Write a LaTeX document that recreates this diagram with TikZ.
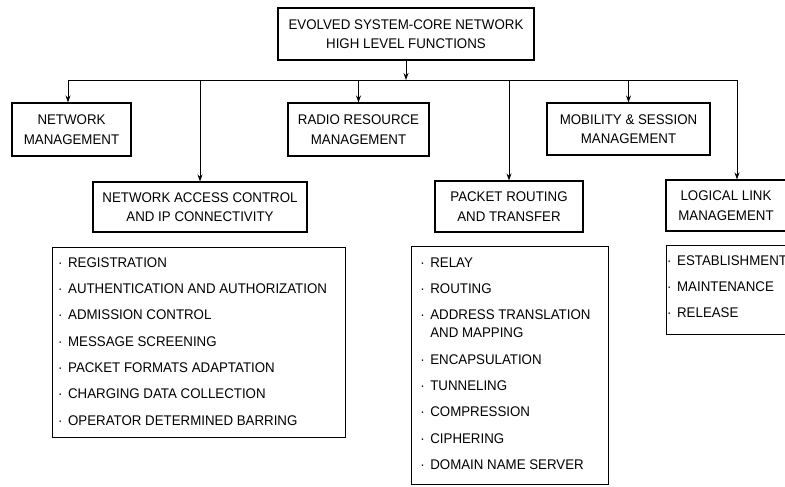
\documentclass[tikz,border=0pt]{standalone}
\usepackage{fontspec}
\setmainfont{Liberation Sans}[FakeStretch=0.95]
\usetikzlibrary{matrix,positioning,arrows.meta}

\begin{document}
\begin{tikzpicture}[x=1pt, y=-1pt, font=\fontsize{14}{19.5}\selectfont]
    \tikzstyle{block} = [rectangle, draw, line width=1.1pt, align=center,
               inner sep=0pt]
    \tikzstyle{listbox} = [rectangle, draw, line width=1.1pt, inner sep=0pt]
    \tikzstyle{line} = [draw, line width=0.9pt, -{Stealth[length=7pt,width=5pt]}]
    \tikzstyle{items} = [matrix of nodes, inner sep=0pt,
      column sep=5.5pt, row sep=13.3pt,
      nodes={anchor=west, inner sep=0pt, text height=10pt, text depth=3pt}]

    \useasboundingbox (0,0) rectangle (785,487);

    % Top level
    \node[block, minimum width=256pt, minimum height=52pt] (hlf) at (406,34)
      {EVOLVED SYSTEM-CORE NETWORK\\HIGH LEVEL FUNCTIONS};

    % First row of functions
    \node[block, minimum width=119pt, minimum height=53pt] (netmgmt) at (71.5,129.5)
      {NETWORK\\MANAGEMENT};
    \node[block, minimum width=141pt, minimum height=53pt] (radiomgmt) at (358.5,129.5)
      {RADIO RESOURCE\\MANAGEMENT};
    \node[block, minimum width=163pt, minimum height=52pt] (mobmgmt) at (628.5,129)
      {MOBILITY \& SESSION\\MANAGEMENT};

    % Second row of functions
    \node[block, minimum width=214pt, minimum height=50pt] (netaccess) at (200,207)
      {NETWORK ACCESS CONTROL\\AND IP CONNECTIVITY};
    \node[block, minimum width=148pt, minimum height=51pt] (pktroute) at (509,206.5)
      {PACKET ROUTING\\AND TRANSFER};
    \node[block, minimum width=120pt, minimum height=51pt] (linkmgmt) at (726,205.5)
      {LOGICAL LINK\\MANAGEMENT};

    % Sub-function boxes
    \node[listbox, minimum width=293pt, minimum height=190pt, anchor=north west]
      (naclist) at (52,247) {};
    \node[listbox, minimum width=197pt, minimum height=238pt, anchor=north west]
      (prtlist) at (411,246) {};
    \node[listbox, minimum width=140pt, minimum height=89pt, anchor=north west]
      (llmlist) at (666,245) {};

    \matrix [items, anchor=north west] (nacitems)
      at ([xshift=6pt,yshift=-10pt]naclist.north west) {
      · & REGISTRATION \\
      · & AUTHENTICATION AND AUTHORIZATION \\
      · & ADMISSION CONTROL \\
      · & MESSAGE SCREENING \\
      · & PACKET FORMATS ADAPTATION \\
      · & CHARGING DATA COLLECTION \\
      · & OPERATOR DETERMINED BARRING \\
    };

    \matrix [items, anchor=north west] (prtitems)
      at ([xshift=9pt,yshift=-11pt]prtlist.north west) {
      · & RELAY \\
      · & ROUTING \\
      · & ADDRESS TRANSLATION \\[-8.3pt]
        & AND MAPPING \\
      · & ENCAPSULATION \\
      · & TUNNELING \\
      · & COMPRESSION \\
      · & CIPHERING \\
      · & DOMAIN NAME SERVER \\
    };

    \matrix [items, anchor=north west] (llmitems)
      at ([xshift=1pt,yshift=-10pt]llmlist.north west) {
      · & ESTABLISHMENT \\
      · & MAINTENANCE \\
      · & RELEASE \\
    };

    % Bus and arrows
    \coordinate (bus) at (406,80);
    \coordinate (busleft) at (68,80);
    \coordinate (busright) at (737,80);

    \draw [line] (hlf.south) -- (bus);
    \draw [line width=0.9pt] (busleft) -- (busright);
    \draw [line] (busleft) -- (busleft |- netmgmt.north);
    \draw [line] (bus -| radiomgmt.north) -- (radiomgmt.north);
    \draw [line] (bus -| mobmgmt.north) -- (mobmgmt.north);
    \draw [line] (bus -| netaccess.north) -- (netaccess.north);
    \draw [line] (bus -| pktroute.north) -- (pktroute.north);
    \draw [line] (busright) -- (busright |- linkmgmt.north);

  \end{tikzpicture}
\end{document}
